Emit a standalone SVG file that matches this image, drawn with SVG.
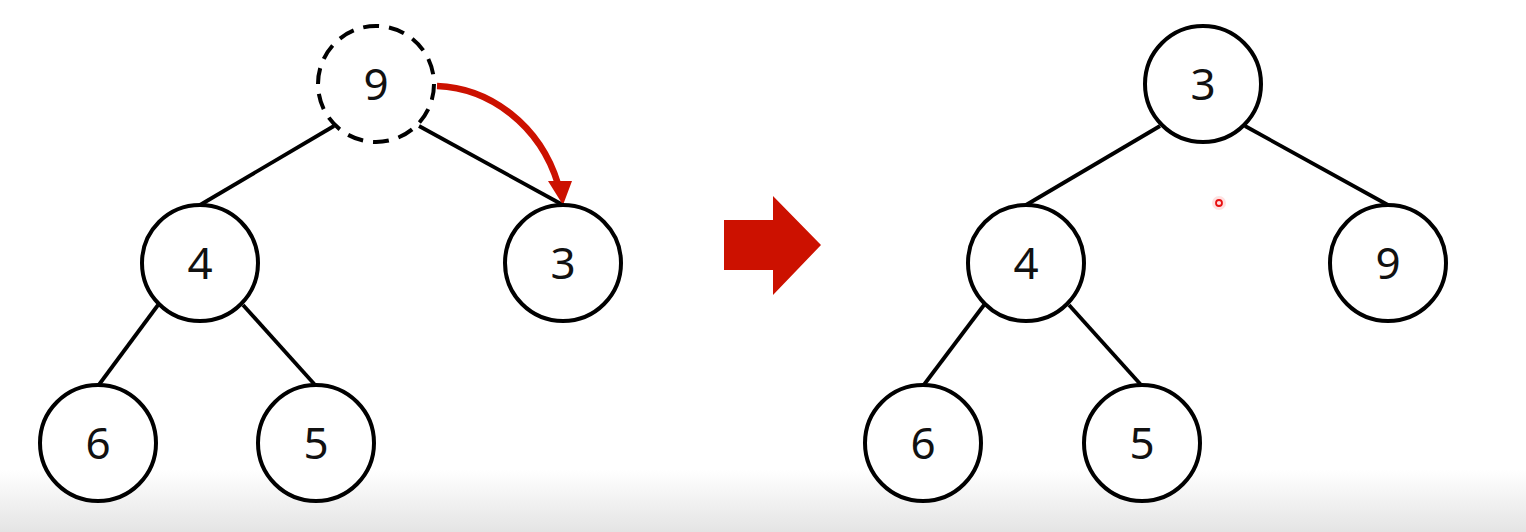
<svg xmlns="http://www.w3.org/2000/svg" width="1526" height="532" viewBox="0 0 1526 532">
<defs>
<linearGradient id="bg" x1="0" y1="0" x2="0" y2="1">
<stop offset="0" stop-color="#ffffff"/>
<stop offset="1" stop-color="#e4e4e4"/>
</linearGradient>
<style>
.n circle{fill:#fff;stroke:#000;stroke-width:4}
.n text{font-family:"Noto Sans","DejaVu Sans",sans-serif;font-size:44px;fill:#111;text-anchor:middle}
.e line{stroke:#000;stroke-width:3.8}
.dash{stroke-dasharray:16 10}
.red{fill:#cc1100}
</style>
</defs>
<rect width="1526" height="532" fill="#fff"/>
<rect y="470" width="1526" height="62" fill="url(#bg)"/>
<g class="e" id="connectors">
<line x1="334" y1="126" x2="200" y2="205"/>
<line x1="419" y1="126" x2="563" y2="205"/>
<line x1="158" y1="305" x2="98" y2="386"/>
<line x1="243" y1="305" x2="316" y2="386"/>
<line x1="1160" y1="126" x2="1026" y2="205"/>
<line x1="1245" y1="126" x2="1388" y2="205"/>
<line x1="984" y1="305" x2="923" y2="386"/>
<line x1="1069" y1="305" x2="1142" y2="386"/>
<path d="M437,86 C490,88 540,125 558,184" fill="none" stroke="#cc1100" stroke-width="6.5"/>
<path class="red" d="M548,181 L572,181 L563,205 Z"/>
<path class="red" d="M724,220 L773,220 L773,196 L821,245 L773,295 L773,270 L724,270 Z"/>
</g>
<g class="n" id="L9"><circle class="dash" cx="376" cy="84" r="58" style="fill:none"/><text x="376" y="100">9</text></g>
<g class="n" id="L4"><circle cx="200" cy="263" r="58"/><text x="200" y="279">4</text></g>
<g class="n" id="L3"><circle cx="563" cy="263" r="58"/><text x="563" y="279">3</text></g>
<g class="n" id="L6"><circle cx="98" cy="443" r="58"/><text x="98" y="459">6</text></g>
<g class="n" id="L5"><circle cx="316" cy="443" r="58"/><text x="316" y="459">5</text></g>
<g class="n" id="R3"><circle cx="1203" cy="84" r="58"/><text x="1203" y="100">3</text></g>
<g class="n" id="R4"><circle cx="1026" cy="263" r="58"/><text x="1026" y="279">4</text></g>
<g class="n" id="R9"><circle cx="1388" cy="263" r="58"/><text x="1388" y="279">9</text></g>
<g class="n" id="R6"><circle cx="923" cy="443" r="58"/><text x="923" y="459">6</text></g>
<g class="n" id="R5"><circle cx="1142" cy="443" r="58"/><text x="1142" y="459">5</text></g>
<circle cx="1219" cy="203" r="7" fill="#ff3030" opacity="0.15"/>
<circle cx="1219" cy="203" r="3" fill="none" stroke="#e81010" stroke-width="1.8"/>
</svg>
